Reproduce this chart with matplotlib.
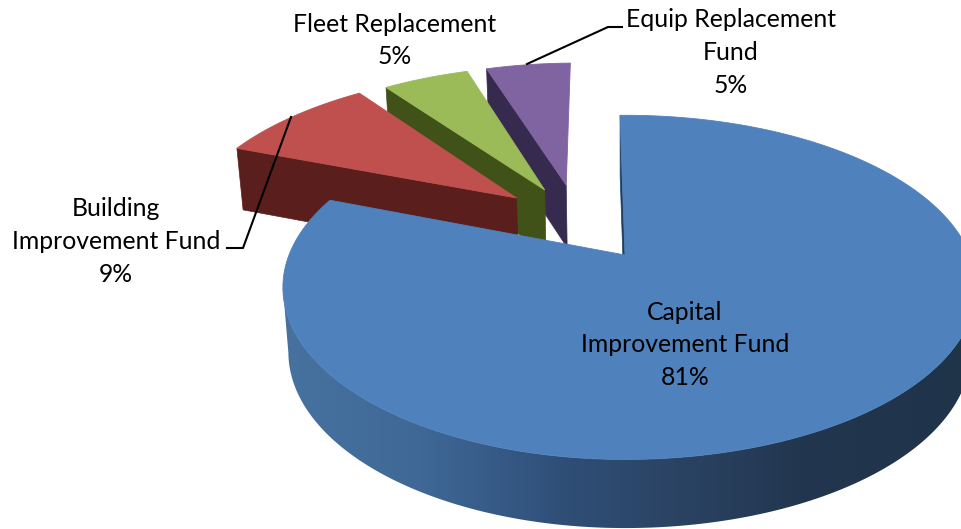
import numpy as np
import matplotlib
matplotlib.use('Agg')
import matplotlib.pyplot as plt
from matplotlib.colors import to_rgb
from matplotlib.patches import Polygon

# data
labels = ['Capital\nImprovement Fund', 'Building\nImprovement Fund', 'Fleet Replacement', 'Equip Replacement\nFund']
shares = [81, 9, 5, 5]

# look
top_colors = ['#4f81bd', '#c0504d', '#9bbb59', '#8064a2']
wall_colors = ['#1d3f66', '#5a1f1c', '#415219', '#362a4f']
offsets = [(0, 0), (-0.345, 0.367), (-0.258, 0.423), (-0.19, 0.457)]
radii = [1.0, 1.035, 1.03, 1.02]
label_pos = [(685, 345), (116, 241.5), (395, 40.5), (731, 52.5)]
rim_x = [285, 420, 560, 660, 800, 965]
rim_cols = ['#47729f', '#3f6897', '#2f4f78', '#2c4566', '#22364f', '#1f3349']

# perspective of the disc
cx, cy = 625, 255
A_left, A_right, B, k = 336, 345, 166, 0.188
start = -1.0


def project(u, v):
    s = 1 / (1 + k * v)
    a = np.where(np.asarray(u) > 0, A_right, A_left)
    return cx + a * u * s, cy - B * v * s, s


def lower(u, v):
    x, y, s = project(u, v)
    d = 44 + 20 * s
    return x - (x - cx) * 0.016, y + d


fig = plt.figure(figsize=(9.62, 5.29), dpi=100)
ax = fig.add_axes([0, 0, 1, 1])

# angles clockwise from the top
edges = start + np.cumsum([0] + shares) * 3.6

# back slices first, big one last
for i in [3, 2, 1, 0]:
    a0, a1 = np.radians(edges[i]), np.radians(edges[i + 1])
    t = np.linspace(a0, a1, 480)
    ou, ov = offsets[i]
    u = ou + radii[i] * np.sin(t)
    v = ov + radii[i] * np.cos(t)

    # wall along the first straight edge
    pts = [project(ou, ov)[:2], project(u[0], v[0])[:2], lower(u[0], v[0]), lower(ou, ov)]
    ax.fill([float(p[0]) for p in pts], [float(p[1]) for p in pts], color=wall_colors[i], lw=0.5)

    # outer rim of the big slice, shaded left to right
    if i == 0:
        ux, uy, _ = project(u, v)
        lx, ly = lower(u, v)
        r, l = np.argmax(ux), np.argmin(ux)   # only the front part, extreme to extreme
        band = np.c_[np.r_[ux[r:l + 1], lx[r:l + 1][::-1]], np.r_[uy[r:l + 1], ly[r:l + 1][::-1]]]
        patch = Polygon(band, closed=True, fc='none', ec='none', transform=ax.transData)
        ax.add_patch(patch)
        px = np.arange(962)
        rgb = np.array([to_rgb(c) for c in rim_cols])
        grad = np.stack([np.interp(px, rim_x, rgb[:, c]) for c in range(3)], axis=1)[None, :, :]
        im = ax.imshow(grad, extent=[0, 962, 529, 0], aspect='auto', zorder=1)
        im.set_clip_path(patch)

    # top face
    x, y, _ = project(np.r_[ou, u], np.r_[ov, v])
    ax.fill(x, y, color=top_colors[i], lw=0.6)

ax.set_xlim(0, 962)
ax.set_ylim(529, 0)
ax.axis('off')

# leader lines
ax.plot([527, 608, 622], [64, 27, 27], color='black', lw=1.5)
ax.plot([291, 243, 227], [117, 248, 248], color='black', lw=1.5)

for name, val, pos in zip(labels, shares, label_pos):
    ax.text(pos[0], pos[1], f'{name}\n{val}%', ha='center', va='center',
            family='Lato', fontsize=17.8, linespacing=1.51, color='black')

fig.savefig('out.png', dpi=100)
